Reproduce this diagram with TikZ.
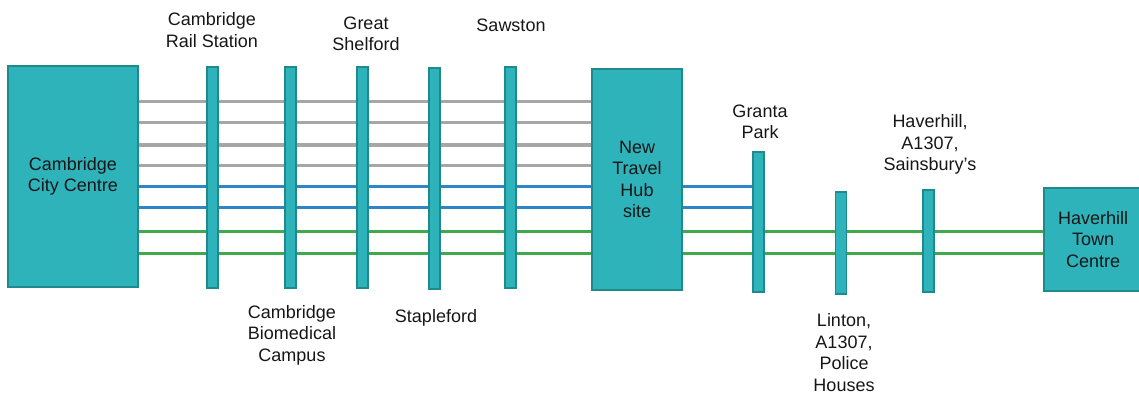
\documentclass[tikz,border=0pt]{standalone}
\usepackage{fontspec}
\setmainfont{Liberation Sans}
\definecolor{tealfill}{RGB}{47,179,187}
\definecolor{tealedge}{RGB}{31,138,142}
\definecolor{lgray}{RGB}{166,166,166}
\definecolor{lblue}{RGB}{46,134,200}
\definecolor{lgreen}{RGB}{64,170,74}
\definecolor{txt}{RGB}{22,22,22}
\tikzset{
  stopbox/.style={draw=tealedge, fill=tealfill, line width=1.8pt, inner sep=0pt, align=center, text=txt,
    font=\fontsize{18}{21.5}\selectfont},
  stopbar/.style={draw=tealedge, fill=tealfill, line width=1.8pt, inner sep=0pt, minimum width=11pt},
  lbl/.style={align=center, text=txt, inner sep=0pt, font=\fontsize{18}{21.5}\selectfont},
  grayline/.style={draw=lgray, line width=3.5pt},
  blueline/.style={draw=lblue, line width=3.5pt},
  greenline/.style={draw=lgreen, line width=3.5pt},
}
\begin{document}
\begin{tikzpicture}[x=1pt,y=-1pt]
\useasboundingbox (0,0) rectangle (1139,394);
% main boxes
\node[stopbox, minimum width=130pt, minimum height=221pt] (city) at (73,176.5) {Cambridge\\City Centre};
\node[stopbox, minimum width=90pt, minimum height=221pt] (hub) at (637,179.5) {New\\Travel\\Hub\\site};
\node[stopbox, minimum width=98pt, minimum height=103pt] (hav) at (1093,239.5) {Haverhill\\Town\\Centre};
% coordinates for bar positions
\coordinate (b1c) at (212.5,177.5);
\coordinate (b2c) at (290.5,177.5);
\coordinate (b3c) at (362.5,177.5);
\coordinate (b4c) at (434.5,178.5);
\coordinate (b5c) at (510.5,177.5);
% lines (drawn below the bars)
\foreach \yy in {101.7,122.7,145,165.7}{
  \draw[grayline] (city.east |- 0,\yy) -- (hub.west |- 0,\yy);
}
\foreach \yy in {186.7,207.7}{
  \draw[blueline] (city.east |- 0,\yy) -- (hub.west |- 0,\yy);
}
\foreach \yy in {231.7,253.3}{
  \draw[greenline] (city.east |- 0,\yy) -- (hub.west |- 0,\yy);
  \draw[greenline] (hub.east |- 0,\yy) -- (hav.west |- 0,\yy);
}
% bars
\node[stopbar, minimum height=221pt] (rail) at (b1c) {};
\node[stopbar, minimum height=221pt] (biomed) at (b2c) {};
\node[stopbar, minimum height=221pt] (shelford) at (b3c) {};
\node[stopbar, minimum height=221pt] (stapleford) at (b4c) {};
\node[stopbar, minimum height=221pt] (sawston) at (b5c) {};
\node[stopbar, minimum height=140pt] (granta) at (758.5,222) {};
\node[stopbar, minimum height=102pt] (linton) at (841,243) {};
\node[stopbar, minimum height=102pt] (sains) at (928.5,241) {};
% blue lines from hub to Granta Park
\foreach \yy in {186.7,207.7}{
  \draw[blueline] (hub.east |- 0,\yy) -- (granta.west |- 0,\yy);
}
% labels
\node[lbl] (lrail) at (212,30) {Cambridge\\Rail Station};
\node[lbl] (lshel) at (366,34) {Great\\Shelford};
\node[lbl] (lsaw) at (511,25) {Sawston};
\node[lbl] (lbio) at (292,335) {Cambridge\\Biomedical\\Campus};
\node[lbl] (lstap) at (436,318) {Stapleford};
\node[lbl] (lgran) at (760,122) {Granta\\Park};
\node[lbl] (lsains) at (930,144.5) {Haverhill,\\A1307,\\Sainsbury's};
\node[lbl] (llint) at (844,352.5) {Linton,\\A1307,\\Police\\Houses};
\end{tikzpicture}
\end{document}
